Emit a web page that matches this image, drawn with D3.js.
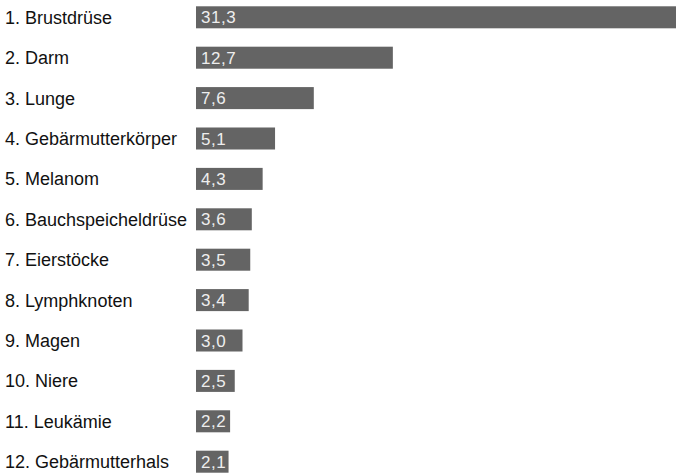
<!DOCTYPE html>
<html>
<head>
<meta charset="utf-8">
<script src="https://cdn.jsdelivr.net/npm/d3@7"></script>
<style>
  body { margin: 0; background: #fff; }
  svg { display: block; }
</style>
</head>
<body>
<script>
var width = 676, height = 474;

var labels = ["1. Brustdrüse", "2. Darm", "3. Lunge", "4. Gebärmutterkörper", "5. Melanom",
  "6. Bauchspeicheldrüse", "7. Eierstöcke", "8. Lymphknoten", "9. Magen", "10. Niere",
  "11. Leukämie", "12. Gebärmutterhals"];
var values = [31.3, 12.7, 7.6, 5.1, 4.3, 3.6, 3.5, 3.4, 3.0, 2.5, 2.2, 2.1];

var data = labels.map(function(l, i) { return { label: l, value: values[i] }; });

var svg = d3.select("body").append("svg")
    .attr("width", width)
    .attr("height", height);

var x = d3.scaleLinear()
    .domain([0, 1])
    .range([196, 196 + 15.5]);

var y = d3.scaleBand()
    .domain(labels)
    .range([-3, 482])
    .paddingInner(0.455)
    .paddingOuter(0.23);

var fmt = function(v) { return d3.format(".1f")(v).replace(".", ","); };

var rows = svg.selectAll("g.row")
    .data(data)
    .enter().append("g")
      .attr("class", "row");

rows.append("rect")
    .attr("x", x(0))
    .attr("y", function(d) { return y(d.label); })
    .attr("width", function(d) { return x(d.value) - x(0); })
    .attr("height", y.bandwidth())
    .attr("fill", "#646464");

rows.append("text")
    .attr("x", 5)
    .attr("y", function(d) { return y(d.label) + y.bandwidth() / 2; })
    .attr("dy", "0.36em")
    .style("font-family", "Liberation Sans, Arial, sans-serif")
    .style("font-size", "18px")
    .style("fill", "#111")
    .text(function(d) { return d.label; });

rows.append("text")
    .attr("x", x(0) + 5)
    .attr("y", function(d) { return y(d.label) + y.bandwidth() / 2; })
    .attr("dy", "0.36em")
    .style("font-family", "Liberation Sans, Arial, sans-serif")
    .style("font-size", "17px")
    .style("letter-spacing", "0.5px")
    .style("fill", "#eeeeee")
    .text(function(d) { return fmt(d.value); });
</script>
</body>
</html>
